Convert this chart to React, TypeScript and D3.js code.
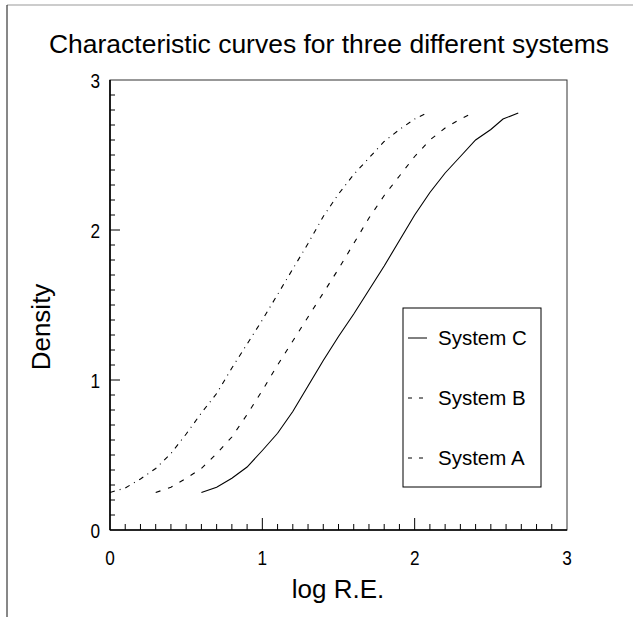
import { useEffect, useRef } from 'react'
import * as d3 from 'd3'

// log R.E. vs density
const systemC: [number, number][] = [
  [0.6, 0.25], [0.7, 0.285], [0.8, 0.345], [0.9, 0.42], [1.0, 0.53], [1.1, 0.645],
  [1.2, 0.79], [1.3, 0.96], [1.4, 1.13], [1.5, 1.29], [1.6, 1.44], [1.7, 1.6],
  [1.8, 1.76], [1.9, 1.93], [2.0, 2.1], [2.1, 2.25], [2.2, 2.38], [2.3, 2.49],
  [2.4, 2.6], [2.5, 2.67], [2.58, 2.74], [2.68, 2.78],
]
const systemB: [number, number][] = [
  [0.3, 0.25], [0.4, 0.285], [0.5, 0.345], [0.6, 0.41], [0.7, 0.51], [0.8, 0.62],
  [0.9, 0.77], [1.0, 0.93], [1.1, 1.1], [1.2, 1.26], [1.3, 1.42], [1.4, 1.58],
  [1.5, 1.74], [1.6, 1.91], [1.7, 2.08], [1.8, 2.23], [1.9, 2.36], [2.0, 2.49],
  [2.1, 2.6], [2.2, 2.68], [2.3, 2.74], [2.38, 2.78],
]
const systemA: [number, number][] = [
  [0.0, 0.25], [0.1, 0.28], [0.2, 0.34], [0.3, 0.41], [0.4, 0.51], [0.5, 0.64],
  [0.6, 0.78], [0.7, 0.91], [0.8, 1.08], [0.9, 1.24], [1.0, 1.4], [1.1, 1.57],
  [1.2, 1.74], [1.3, 1.91], [1.4, 2.09], [1.5, 2.24], [1.6, 2.37], [1.7, 2.48],
  [1.8, 2.59], [1.9, 2.67], [2.0, 2.74], [2.08, 2.78],
]
const series = [
  { name: 'System C', data: systemC, dash: null },
  { name: 'System B', data: systemB, dash: '5,8' },
  { name: 'System A', data: systemA, dash: '5,5,1,5' },
]
const majorTicks = [0, 1, 2, 3]

export default function App() {
  const svgRef = useRef<SVGSVGElement>(null)

  useEffect(() => {
    if (!svgRef.current) return
    const svg = d3.select(svgRef.current)
    svg.selectAll('*').remove()

    const font = '"Liberation Sans", Arial, sans-serif'

    const x = d3.scaleLinear().domain([0, 3]).range([110, 567])
    const y = d3.scaleLinear().domain([0, 3]).range([530, 80])

    // page frame
    svg.append('line').attr('x1', 7).attr('x2', 633).attr('y1', 5).attr('y2', 5)
      .attr('stroke', '#999').attr('stroke-width', 1)
    svg.append('line').attr('x1', 7).attr('x2', 7).attr('y1', 5).attr('y2', 617)
      .attr('stroke', '#111').attr('stroke-width', 1)

    svg.append('text')
      .attr('x', 329).attr('y', 53)
      .attr('text-anchor', 'middle')
      .attr('font-family', font).attr('font-size', 25)
      .attr('textLength', 560).attr('lengthAdjust', 'spacingAndGlyphs')
      .text('Characteristic curves for three different systems')

    // plot box
    svg.append('rect')
      .attr('x', x(0)).attr('y', y(3))
      .attr('width', x(3) - x(0)).attr('height', y(0) - y(3))
      .attr('fill', 'none').attr('stroke', '#333').attr('stroke-width', 1)
    svg.append('line').attr('x1', x(0)).attr('x2', x(0)).attr('y1', y(0)).attr('y2', y(3))
      .attr('stroke', '#000').attr('stroke-width', 1.6)
    svg.append('line').attr('x1', x(0)).attr('x2', x(3)).attr('y1', y(0)).attr('y2', y(0))
      .attr('stroke', '#000').attr('stroke-width', 1.4)

    // inward ticks every 0.1
    const minor = d3.range(1, 30).map(i => i / 10)
    svg.append('g').selectAll('line').data(minor).join('line')
      .attr('x1', d => x(d)).attr('x2', d => x(d))
      .attr('y1', y(0)).attr('y2', d => y(0) - (Math.round(d * 10) % 10 === 0 ? 12 : 6))
      .attr('stroke', '#000').attr('stroke-width', 1)
    svg.append('g').selectAll('line').data(minor).join('line')
      .attr('y1', d => y(d)).attr('y2', d => y(d))
      .attr('x1', x(0)).attr('x2', d => x(0) + (Math.round(d * 10) % 10 === 0 ? 10 : 5))
      .attr('stroke', '#000').attr('stroke-width', 1)

    // narrow-looking tick digits
    svg.append('g').selectAll('text').data(majorTicks).join('text')
      .attr('transform', d => `translate(${x(d)},565) scale(0.82,1)`)
      .attr('text-anchor', 'middle')
      .attr('font-family', font).attr('font-size', 21)
      .text(d => d)
    svg.append('g').selectAll('text').data(majorTicks).join('text')
      .attr('transform', d => `translate(100,${y(d) + 8}) scale(0.82,1)`)
      .attr('text-anchor', 'end')
      .attr('font-family', font).attr('font-size', 21)
      .text(d => d)

    svg.append('text')
      .attr('x', 338).attr('y', 598)
      .attr('text-anchor', 'middle')
      .attr('font-family', font).attr('font-size', 26)
      .text('log R.E.')
    svg.append('text')
      .attr('transform', `translate(50,327) rotate(-90)`)
      .attr('text-anchor', 'middle')
      .attr('font-family', font).attr('font-size', 26)
      .text('Density')

    const line = d3.line<[number, number]>()
      .x(d => x(d[0]))
      .y(d => y(d[1]))

    series.forEach(s => {
      svg.append('path')
        .datum(s.data)
        .attr('fill', 'none')
        .attr('stroke', '#000')
        .attr('stroke-width', 1.1)
        .attr('stroke-dasharray', s.dash)
        .attr('d', line)
    })

    // legend
    const lg = svg.append('g')
    lg.append('rect')
      .attr('x', 403).attr('y', 308).attr('width', 138).attr('height', 179)
      .attr('fill', '#fff').attr('stroke', '#000').attr('stroke-width', 1)
    series.forEach((s, i) => {
      const ly = 338 + i * 60
      lg.append('line')
        .attr('x1', 408).attr('x2', 427).attr('y1', ly).attr('y2', ly)
        .attr('stroke', '#000').attr('stroke-width', 1)
        .attr('stroke-dasharray', s.dash ? '4,7' : null)
      lg.append('text')
        .attr('x', 438).attr('y', ly + 7)
        .attr('font-family', font).attr('font-size', 20.5)
        .text(s.name)
    })
  }, [])

  return (
    <svg
      ref={svgRef}
      width={633}
      height={617}
      style={{ position: 'absolute', left: 0, top: 0, background: '#fff' }}
    />
  )
}
